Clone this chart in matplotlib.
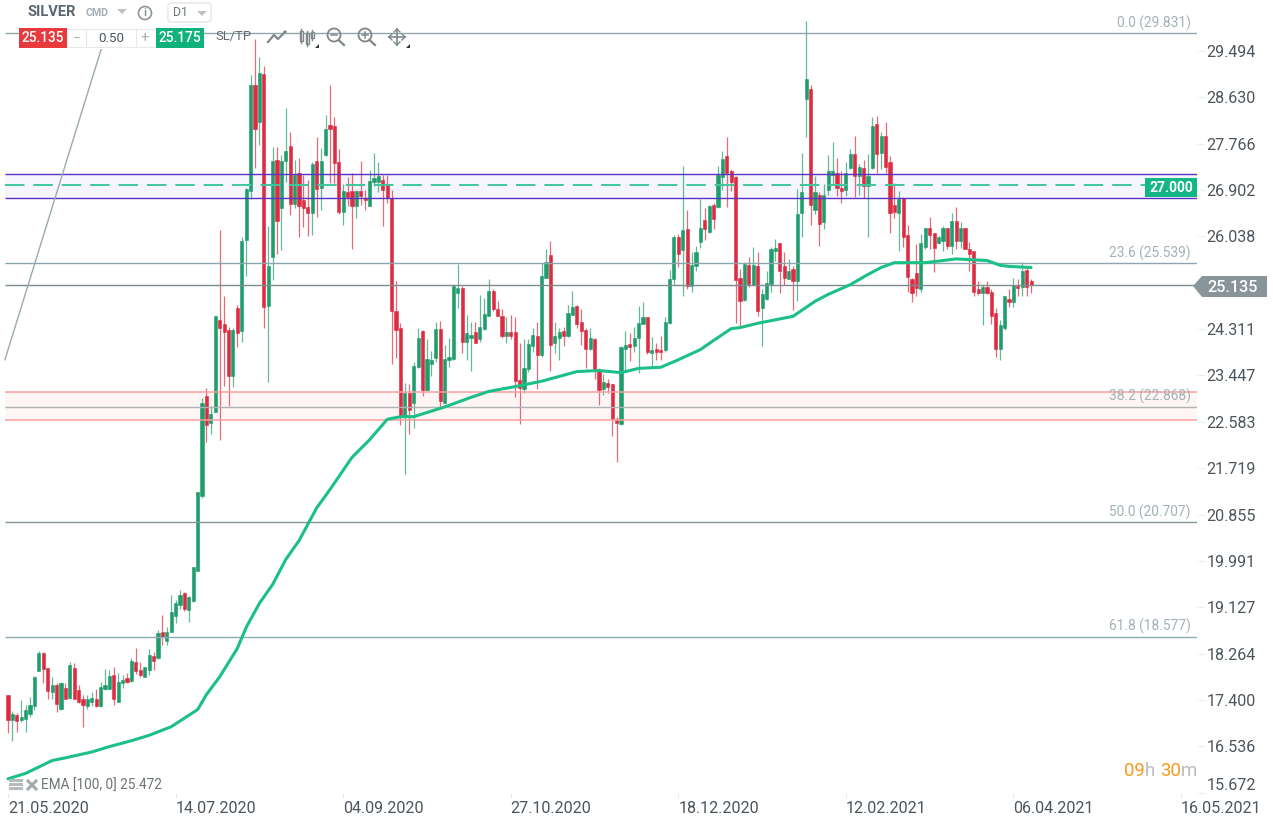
import matplotlib
matplotlib.use("Agg")
import matplotlib.pyplot as plt
from matplotlib.patches import Rectangle, Polygon, Circle, FancyBboxPatch

plt.rcParams['font.family'] = ['Roboto', 'DejaVu Sans']

# daily candles, 21.05.2020 onward
opens = [17.50,17.02,17.11,17.02,17.05,17.13,17.28,17.93,18.28,18.00,
         17.54,17.67,17.24,17.63,17.44,18.00,17.59,17.42,17.28,17.37,
         17.42,17.29,17.61,17.61,17.87,17.37,17.72,17.80,17.76,18.11,
         17.95,17.83,17.95,18.21,18.19,18.67,18.50,18.67,18.97,19.16,
         19.40,19.07,19.25,19.81,21.21,23.06,22.57,22.76,24.49,24.40,
         24.29,23.43,24.70,24.27,25.98,26.89,28.87,28.18,29.06,24.75,
         25.65,27.47,26.56,27.44,27.72,26.65,27.23,26.71,26.58,26.48,
         27.44,26.95,27.55,28.11,28.09,27.42,26.50,26.86,26.88,26.61,
         26.89,26.76,26.61,27.06,27.06,27.10,27.02,26.75,24.64,24.34,
         22.68,23.13,22.94,23.60,24.27,23.17,23.67,23.78,24.32,22.94,
         23.74,23.76,24.99,25.07,24.08,24.15,24.25,24.12,24.32,24.56,
         25.03,24.68,24.55,24.19,24.25,24.25,23.37,23.19,23.56,24.00,
         24.19,23.82,25.27,25.70,24.06,24.15,24.27,24.19,24.58,24.75,
         24.45,24.29,23.95,24.12,23.54,23.19,23.30,23.28,22.63,22.55,
         23.95,24.04,23.99,24.14,24.40,24.53,23.87,23.95,23.93,23.93,
         24.43,25.25,26.02,25.78,26.17,25.12,25.48,25.94,26.34,26.13,
         26.63,26.58,27.14,27.53,27.25,27.14,25.27,24.85,25.50,25.14,
         25.48,24.71,24.88,25.16,25.76,25.91,25.48,25.25,25.44,25.20,
         26.47,28.61,28.78,26.54,26.82,26.30,26.91,27.19,27.23,26.95,
         26.91,27.32,27.57,27.16,27.32,26.97,27.32,28.14,27.60,27.92,
         27.42,26.63,26.48,26.76,26.06,25.25,25.35,25.05,25.85,26.19,
         26.11,25.91,25.96,26.19,25.87,26.32,25.96,26.19,25.81,25.76,
         25.05,24.99,25.10,25.01,24.62,23.95,24.34,24.88,24.81,25.12,
         25.09,25.42,25.20]
highs = [17.50,17.20,17.16,17.39,17.30,17.46,17.85,18.32,18.30,18.00,
         17.83,17.72,17.74,17.72,18.11,18.09,17.68,17.50,17.50,17.54,
         17.61,17.74,17.98,17.96,18.02,17.91,17.87,17.91,18.19,18.37,
         18.11,18.02,18.34,18.30,18.71,18.99,18.75,19.35,19.27,19.44,
         19.42,19.33,19.87,21.27,23.02,23.21,22.87,24.56,26.15,24.92,
         24.36,24.34,24.77,26.02,26.95,29.04,29.71,29.39,29.21,26.24,
         27.70,27.70,27.55,28.44,27.99,27.47,27.51,27.19,27.10,27.42,
         27.90,27.68,28.31,28.87,28.27,27.66,27.01,27.14,27.23,26.91,
         27.45,26.91,27.27,27.60,27.42,27.19,27.19,26.91,25.20,24.43,
         23.30,23.28,23.69,24.34,24.29,24.12,23.90,24.45,24.47,24.02,
         24.15,25.11,25.52,25.11,24.58,24.45,24.45,24.94,24.90,25.24,
         25.05,24.84,24.68,24.53,24.58,24.53,24.06,24.12,24.12,24.34,
         24.45,25.55,25.80,25.96,24.45,24.34,24.36,24.77,25.03,24.77,
         24.68,24.34,24.34,24.15,23.58,23.48,23.39,23.28,22.68,23.99,
         24.27,24.23,24.36,24.75,24.81,24.53,24.17,24.06,24.19,24.53,
         25.42,26.07,26.09,27.36,26.54,25.74,25.87,26.73,26.56,26.62,
         26.67,27.36,27.64,27.90,27.30,27.17,25.44,25.57,25.65,25.85,
         25.74,25.05,25.39,25.85,26.00,25.92,25.74,25.61,25.48,26.93,
         27.60,30.06,28.87,27.16,26.86,27.01,27.55,27.79,27.51,27.25,
         27.42,27.66,27.92,27.38,27.47,27.57,28.26,28.29,27.99,28.18,
         27.53,27.04,26.88,26.78,26.26,25.27,25.89,26.09,26.20,26.41,
         26.11,26.04,26.24,26.20,26.48,26.58,26.30,26.20,25.93,25.76,
         25.20,25.14,25.20,25.05,24.70,24.49,24.92,25.05,25.27,25.24,
         25.57,25.46,25.24]
lows = [16.79,16.64,16.81,16.98,16.81,17.09,17.22,17.93,17.72,17.41,
        17.41,17.17,17.22,17.42,17.42,17.41,17.35,16.90,17.24,17.28,
        17.26,17.27,17.59,17.61,17.31,17.37,17.63,17.72,17.74,17.89,
        17.83,17.82,17.87,17.96,18.17,18.43,18.43,18.67,18.84,19.09,
        19.05,18.86,19.22,19.81,21.17,22.20,22.36,22.76,22.24,23.26,
        22.87,23.24,23.97,24.08,25.31,26.73,27.32,27.75,24.34,23.32,
        25.22,25.72,25.78,27.06,26.43,26.56,26.02,26.22,26.04,26.06,
        26.41,26.54,27.53,27.04,27.04,26.45,26.26,26.60,25.81,26.39,
        26.63,26.54,26.61,26.97,26.86,26.24,26.67,23.67,23.78,22.53,
        21.62,22.36,22.47,23.58,23.07,23.15,23.43,23.69,22.85,22.94,
        23.60,23.74,24.71,23.86,23.74,23.54,24.06,24.08,24.30,24.55,
        24.64,24.55,24.14,24.06,24.12,23.04,22.55,23.13,23.52,23.89,
        23.19,23.80,25.27,23.54,23.87,23.74,24.00,24.17,24.58,24.34,
        24.02,23.58,23.93,23.39,22.89,23.09,23.13,22.31,21.84,22.53,
        23.52,23.71,23.89,23.50,24.40,23.84,23.61,23.74,23.74,23.89,
        24.40,25.14,25.46,24.92,25.05,25.01,25.39,25.83,25.98,26.11,
        26.17,26.56,26.91,26.58,26.88,24.43,24.36,24.83,25.09,25.14,
        24.55,23.99,24.86,25.01,25.59,24.99,25.14,25.24,24.66,24.83,
        26.02,27.90,26.26,26.45,25.87,26.17,26.82,27.01,26.80,26.67,
        26.80,27.29,26.78,26.82,26.76,26.02,27.29,27.23,27.29,27.23,
        26.11,26.39,25.76,25.85,25.01,24.81,24.92,25.01,25.80,25.80,
        25.37,25.89,25.76,25.80,25.72,25.80,25.83,25.80,25.39,24.92,
        24.94,24.38,24.96,24.40,23.80,23.73,24.30,24.73,24.73,24.92,
        24.92,24.92,24.99]
closes = [17.02,17.13,17.00,17.09,17.22,17.31,17.83,18.28,17.98,17.57,
          17.67,17.32,17.72,17.42,18.06,17.42,17.37,17.31,17.41,17.44,
          17.29,17.65,17.67,17.85,17.41,17.74,17.78,17.74,18.13,17.93,
          17.87,18.02,18.24,18.13,18.65,18.58,18.67,19.03,19.20,19.36,
          19.09,19.31,19.87,21.27,22.94,22.53,22.72,24.56,24.34,24.25,
          23.43,24.29,24.23,25.96,26.93,28.87,28.05,29.09,24.73,25.48,
          27.45,26.32,27.44,27.64,26.65,27.19,26.60,26.56,26.48,27.38,
          26.93,27.45,28.05,28.05,27.40,26.50,26.88,26.78,26.60,26.89,
          26.80,26.71,27.08,27.12,27.16,26.91,26.76,24.64,24.29,22.68,
          23.13,22.81,23.63,24.15,23.17,23.76,23.73,24.32,22.98,23.76,
          23.80,25.11,25.07,24.08,24.23,24.21,24.06,24.36,24.60,25.03,
          24.68,24.56,24.19,24.25,24.19,23.34,23.21,23.58,24.04,24.21,
          23.82,25.31,25.57,24.02,24.19,24.25,24.19,24.62,24.73,24.40,
          24.27,23.95,24.15,23.54,23.17,23.32,23.24,22.63,22.57,23.97,
          24.02,23.97,24.15,24.43,24.53,23.89,23.93,23.89,23.89,24.45,
          25.25,26.02,25.72,26.15,25.12,25.50,25.74,26.20,26.17,26.60,
          26.37,27.19,27.49,27.23,27.06,25.22,24.83,25.52,25.16,25.50,
          24.64,24.96,25.18,25.80,25.83,25.39,25.27,25.40,25.20,26.45,
          26.86,28.98,26.62,26.86,26.28,26.82,27.25,27.25,26.95,26.89,
          27.23,27.57,27.16,27.34,26.97,27.17,28.10,27.58,27.92,27.34,
          26.48,26.50,26.73,26.02,25.29,24.99,25.07,25.91,26.19,26.07,
          25.83,26.02,26.19,25.87,26.32,25.96,26.19,25.80,25.72,25.01,
          24.99,25.10,24.99,24.56,23.95,24.38,24.92,24.81,25.14,25.07,
          25.40,25.10,25.14]

# EMA 100 curve, candle number and price
ema_idx = [0,4,10,13,19,23,28,32,37,43,45,48,52,54,57,60,63,66,70,73,78,82,86,89,92,
           99,105,109,115,121,129,134,139,143,148,152,157,160,164,166,170,178,183,186,
           191,195,198,201,205,208,215,222,225,227,232]
ema_val = [15.93,16.03,16.27,16.32,16.43,16.53,16.64,16.74,16.90,17.22,17.50,17.83,18.36,
           18.75,19.20,19.55,20.02,20.37,20.98,21.32,21.92,22.25,22.63,22.68,22.68,
           22.86,23.04,23.15,23.24,23.34,23.52,23.54,23.50,23.58,23.60,23.74,23.93,
           24.10,24.32,24.34,24.42,24.55,24.83,24.96,25.14,25.33,25.46,25.55,25.55,
           25.55,25.62,25.59,25.50,25.48,25.46]

fib_levels = [29.831, 25.539, 22.868, 20.707, 18.577]
fib_labels = ['0.0 (29.831)', '23.6 (25.539)', '38.2 (22.868)', '50.0 (20.707)', '61.8 (18.577)']
fib_colors = ['#93a5ab', '#8ba6af', '#b0b3b5', '#82949a', '#8eaab3']

last_price = 25.135
target_price = 27.000
purple_zone = [26.755, 27.20]
pink_zone = [22.62, 23.14]
trend_x = [-0.7, 21.1]
trend_y = [23.74, 29.52]

price_ticks = [29.494, 28.630, 27.766, 26.902, 26.038, 24.311, 23.447, 22.583, 21.719,
               20.855, 19.991, 19.127, 18.264, 17.400, 16.536, 15.672]
date_ticks = [0, 38, 76, 114, 152, 190, 228, 266]
date_labels = ['21.05.2020', '14.07.2020', '04.09.2020', '27.10.2020', '18.12.2020',
               '12.02.2021', '06.04.2021', '16.05.2021']

GREEN = '#1f9d6c'
RED = '#dd2b42'
W, H = 1273, 822
STEP = 4.41

fig = plt.figure(figsize=(W / 100, H / 100), dpi=100, facecolor='white')
ax = fig.add_axes([0, (H - 793) / H, 1197 / W, 793 / H])
ax.set_xlim(-8 / STEP, (1197 - 8) / STEP)
ax.set_ylim(15.665, 30.446)
line_start = -3 / STEP

# zones
ax.fill_between([line_start, ax.get_xlim()[1]], purple_zone[0], purple_zone[1], color='#f6f5fb', lw=0, zorder=1)
ax.fill_between([line_start, ax.get_xlim()[1]], pink_zone[0], pink_zone[1], color='#fdf6f5', lw=0, zorder=1)

# candles
for i in range(len(opens)):
    c = GREEN if closes[i] >= opens[i] else RED
    ax.vlines(i, lows[i], highs[i], color=c, lw=0.9, alpha=0.7, zorder=2)
    ax.bar(i, abs(closes[i] - opens[i]), bottom=min(opens[i], closes[i]), width=0.72,
           color=c, lw=0.4, edgecolor=c, zorder=3)

# horizontal levels
for lev, lab, col in zip(fib_levels, fib_labels, fib_colors):
    ax.hlines(lev, line_start, ax.get_xlim()[1], color=col, lw=1.0, zorder=4)
    ax.annotate(lab, xy=(1, lev), xycoords=('axes fraction', 'data'), xytext=(-4.5, 7.2),
                textcoords='offset points', ha='right', va='center', fontsize=9.9, color='#a3b1b8', zorder=6)
ax.hlines(last_price, line_start, ax.get_xlim()[1], color='#7d8b90', lw=1.0, zorder=4)
for z in purple_zone:
    ax.hlines(z, line_start, ax.get_xlim()[1], color='#5a33c2', lw=1.0, zorder=4)
for z in pink_zone:
    ax.hlines(z, line_start, ax.get_xlim()[1], color='#fa9e9e', lw=1.1, zorder=4)
ax.plot([line_start, ax.get_xlim()[1]], [target_price, target_price], color='#3fc79c', lw=1.4,
        dashes=(10, 4.6), zorder=4)
ax.plot(trend_x, trend_y, color='#9aa9b2', lw=1.0, zorder=4)

# EMA
ax.plot(ema_idx, ema_val, color='#1bbf88', lw=2.2, solid_capstyle='round', solid_joinstyle='round', zorder=5)

# axes
for s in ax.spines.values():
    s.set_visible(False)
ax.yaxis.tick_right()
ax.set_yticks(price_ticks)
ax.set_yticklabels(['%.3f' % p for p in price_ticks], fontsize=11.6, color='#4b555b')
ax.tick_params(axis='y', length=6, width=0.8, color='#eceeef', pad=1)
ax.set_xticks(date_ticks)
ax.set_xticklabels(date_labels, fontsize=11.6, color='#4b555b', ha='left')
ax.tick_params(axis='x', length=3, width=0.8, color='#e3e5e6', pad=3)
ax.get_yticklabels()[-1].set_verticalalignment('bottom')

# overlay in screen pixels for the platform widgets
ov = fig.add_axes([0, 0, 1, 1], zorder=10)
ov.set_xlim(0, W)
ov.set_ylim(H, 0)
ov.axis('off')
ov.patch.set_alpha(0)

# target and last price tags
ov.add_patch(Rectangle((1145, 178), 52, 19, color='#14b685', lw=0))
ov.text(1171, 187.5, '27.000', color='white', fontsize=10, fontweight='bold', ha='center', va='center')
ov.add_patch(Polygon([(1193, 286), (1202, 276), (1267, 276), (1267, 297), (1202, 297)], color='#89959a', lw=0))
ov.text(1207, 287, '25.135', color='white', fontsize=11.6, fontweight='medium', ha='left', va='center')

# header
ov.text(27, 12.5, 'SILVER', fontsize=10.6, fontweight='bold', color='#5b666e', va='center')
ov.text(85, 13, 'CMD', fontsize=7.6, fontweight='bold', color='#a6aeb3', va='center')
ov.add_patch(Polygon([(117, 9), (127, 9), (122, 14)], color='#bcc2c6', lw=0))
ov.add_patch(Circle((145, 13), 6.5, fill=False, ec='#8b959a', lw=1.2))
ov.text(145, 13, 'i', fontsize=8, fontweight='bold', color='#8b959a', ha='center', va='center')
ov.add_patch(FancyBboxPatch((168, 3), 43, 19, boxstyle='round,pad=0,rounding_size=3', fc='white', ec='#e4e6e8', lw=1))
ov.text(173, 13, 'D1', fontsize=8.8, color='#6c767c', va='center')
ov.add_patch(Polygon([(197, 11), (207, 11), (202, 16)], color='#bcc2c6', lw=0))

# order widgets
ov.add_patch(Rectangle((19, 28), 48, 20, color='#e8393c', lw=0))
ov.text(43, 38, '25.135', color='white', fontsize=9.8, fontweight='medium', ha='center', va='center')
ov.add_patch(Rectangle((67, 29), 89, 18, fc='white', ec='#e6e8ea', lw=0.8))
ov.plot([86, 86], [29, 47], color='#e6e8ea', lw=0.8)
ov.plot([136, 136], [29, 47], color='#e6e8ea', lw=0.8)
ov.text(77, 38, '\u2212', color='#a9b0b4', fontsize=10, ha='center', va='center')
ov.text(111, 38.5, '0.50', color='#4b555b', fontsize=9.6, ha='center', va='center')
ov.text(145, 38, '+', color='#a9b0b4', fontsize=11, ha='center', va='center')
ov.add_patch(Rectangle((156, 28), 48, 20, color='#10b27c', lw=0))
ov.text(180, 38, '25.175', color='white', fontsize=9.8, fontweight='medium', ha='center', va='center')
ov.text(215, 36.5, 'SL/TP', color='#5f6b72', fontsize=9.4, va='center')

# toolbar icons
ICON = '#7d878c'
ov.plot([268, 274, 278, 285], [42, 35, 39, 32], color=ICON, lw=1.6)
ov.add_patch(Circle((285, 32), 1.6, color=ICON, lw=0))
for xc, top, bot in [(301, 31, 41), (307, 33, 44), (312, 32, 38)]:
    ov.plot([xc, xc], [top - 2, bot + 2], color=ICON, lw=1)
    ov.add_patch(Rectangle((xc - 1.5, top), 3, bot - top, fc='white', ec=ICON, lw=1))
ov.add_patch(Polygon([(319, 44), (319, 48), (315, 48)], color='#333333', lw=0))
for xc, plus in [(334, False), (365, True)]:
    ov.add_patch(Circle((xc, 35), 6.5, fill=False, ec=ICON, lw=1.3))
    ov.plot([xc + 4.5, xc + 10], [40, 45], color=ICON, lw=1.6)
    ov.plot([xc - 3, xc + 3], [35, 35], color=ICON, lw=1.1)
    if plus:
        ov.plot([xc, xc], [32, 38], color=ICON, lw=1.1)
ov.plot([389, 405], [37, 37], color=ICON, lw=1.2)
ov.plot([397, 397], [29, 45], color=ICON, lw=1.2)
for a, b in [((389, 37), (392, 34)), ((389, 37), (392, 40)), ((405, 37), (402, 34)), ((405, 37), (402, 40)),
             ((397, 29), (394, 32)), ((397, 29), (400, 32)), ((397, 45), (394, 42)), ((397, 45), (400, 42))]:
    ov.plot([a[0], b[0]], [a[1], b[1]], color=ICON, lw=1)
ov.add_patch(Polygon([(410, 44), (410, 48), (406, 48)], color='#333333', lw=0))

# indicator label
for yy in [780, 784, 788]:
    ov.add_patch(Rectangle((9, yy - 1), 14, 3, color='#b4b9bc', lw=0))
ov.plot([28, 36], [781, 789], color='#a4a9ac', lw=2.2)
ov.plot([36, 28], [781, 789], color='#a4a9ac', lw=2.2)
ov.text(41, 785.5, 'EMA [100, 0] 25.472', fontsize=9.8, color='#6d7478', va='center')

# session countdown
for tx, txt, col in [(1124, '09', '#f89a1c'), (1145, 'h', '#b9bdc0'), (1160.5, '30', '#f89a1c'), (1181, 'm', '#b9bdc0')]:
    ov.text(tx, 771, txt, fontsize=13.4, color=col, va='center')

fig.savefig('out.png', dpi=100)
